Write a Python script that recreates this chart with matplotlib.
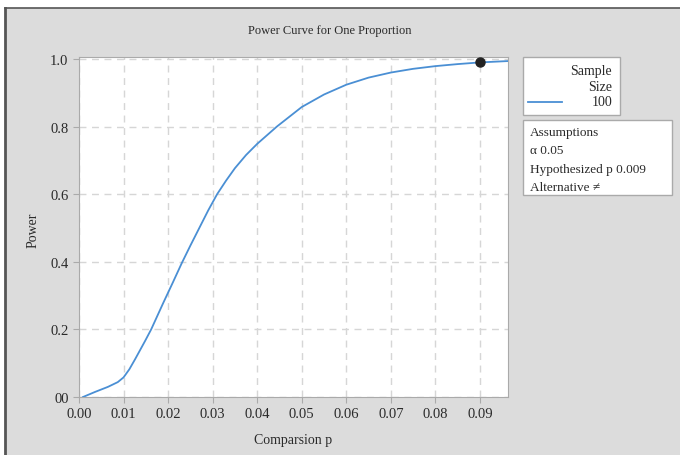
import matplotlib
matplotlib.use("Agg")
import matplotlib.pyplot as plt
from matplotlib.patches import Rectangle
from matplotlib.lines import Line2D

plt.rcParams['font.family'] = ['Liberation Serif', 'DejaVu Serif']

# power curve (comparison p, power)
comp_p = [0.0009, 0.0036, 0.0065, 0.0087, 0.0100, 0.0113, 0.0126, 0.0148, 0.0162,
          0.0189, 0.0210, 0.0231, 0.0250, 0.0270, 0.0290, 0.0310, 0.0330, 0.0350,
          0.0375, 0.0400, 0.0444, 0.0500, 0.0550, 0.0600, 0.0650, 0.0700,
          0.0750, 0.0800, 0.0850, 0.0900, 0.0963]
power = [0.000, 0.015, 0.030, 0.044, 0.058, 0.082, 0.112, 0.165, 0.200,
         0.278, 0.337, 0.397, 0.448, 0.500, 0.552, 0.600, 0.640, 0.677,
         0.716, 0.749, 0.800, 0.858, 0.895, 0.924, 0.945, 0.960,
         0.971, 0.979, 0.985, 0.990, 0.994]
marker_p, marker_power = 0.09, 0.990

x_ticks = [0.00, 0.01, 0.02, 0.03, 0.04, 0.05, 0.06, 0.07, 0.08, 0.09]
x_labels = ['0.00', '0.01', '0.02', '0.03', '0.04', '0.05', '0.06', '0.07', '0.08', '0.09']
y_ticks = [0.0, 0.2, 0.4, 0.6, 0.8, 1.0]
y_labels = ['00', '0.2', '0.4', '0.6', '0.8', '1.0']

sample_size = '100'
assumptions = ['Assumptions', '\u03b1 0.05', 'Hypothesized p 0.009', 'Alternative \u2260']

line_col = '#4a8fd4'
panel_col = '#dcdcdc'
txt_col = '#2a2a2a'
W, H = 680, 456

fig = plt.figure(figsize=(6.8, 4.56), dpi=100)
fig.patch.set_facecolor('white')

# grey panel with dark left/top border (behind the axes)
fig.patches.append(Rectangle((5 / W, 0), 1, 1 - 9 / H, transform=fig.transFigure,
                             facecolor=panel_col, edgecolor='none', zorder=-5))
fig.lines.append(Line2D([5 / W, 5 / W], [0, 1 - 9 / H], transform=fig.transFigure,
                        color='#555555', lw=2, zorder=-4))
fig.lines.append(Line2D([5 / W, 1], [1 - 9 / H, 1 - 9 / H], transform=fig.transFigure,
                        color='#555555', lw=1.2, zorder=-4))

ax = fig.add_axes([79 / W, 1 - 398 / H, 429 / W, 340 / H])
ax.set_facecolor('white')
ax.plot(comp_p, power, color=line_col, lw=1.3, zorder=3)
ax.plot([marker_p], [marker_power], 'o', color='#222222', ms=6.5, zorder=4, clip_on=False)

ax.set_xlim(0, 0.0963)
ax.set_ylim(0, 1.006)
ax.set_xticks(x_ticks)
ax.set_xticklabels(x_labels)
ax.set_yticks(y_ticks)
ax.set_yticklabels(y_labels)
ax.grid(True, color='#d6d6d6', ls=(0, (5, 4)), lw=1)
ax.tick_params(colors='#aaaaaa', labelcolor=txt_col, labelsize=10.5, length=4, width=0.8)
for s in ax.spines.values():
    s.set_color('#aaaaaa')

ax.set_xlabel('Comparsion p', fontsize=10, color=txt_col, labelpad=9)
fig.text(33 / W, 1 - 230 / H, 'Power', rotation=90, ha='center', va='center',
         fontsize=10, color=txt_col)
fig.text(330 / W, 1 - 31 / H, 'Power Curve for One Proportion', ha='center', va='center',
         fontsize=9, color=txt_col)

# legend box: sample size
fig.patches.append(Rectangle((523 / W, 1 - 116 / H), 97 / W, 58 / H, transform=fig.transFigure,
                             facecolor='white', edgecolor='#aaaaaa', lw=1, zorder=2))
fig.text(612 / W, 1 - 72 / H, 'Sample', ha='right', va='center', fontsize=10, color=txt_col)
fig.text(612 / W, 1 - 88 / H, 'Size', ha='right', va='center', fontsize=10, color=txt_col)
fig.text(612 / W, 1 - 103 / H, sample_size, ha='right', va='center', fontsize=10, color=txt_col)
fig.lines.append(Line2D([528 / W, 562 / W], [1 - 103 / H, 1 - 103 / H], transform=fig.transFigure,
                        color=line_col, lw=1.3, zorder=3))

# assumptions box
fig.patches.append(Rectangle((523 / W, 1 - 196 / H), 149 / W, 75 / H, transform=fig.transFigure,
                             facecolor='white', edgecolor='#aaaaaa', lw=1, zorder=2))
for i, t in enumerate(assumptions):
    fig.text(530 / W, 1 - (133 + i * 18.5) / H, t, ha='left', va='center',
             fontsize=9.5, color=txt_col)

fig.savefig('out.png', dpi=100)
